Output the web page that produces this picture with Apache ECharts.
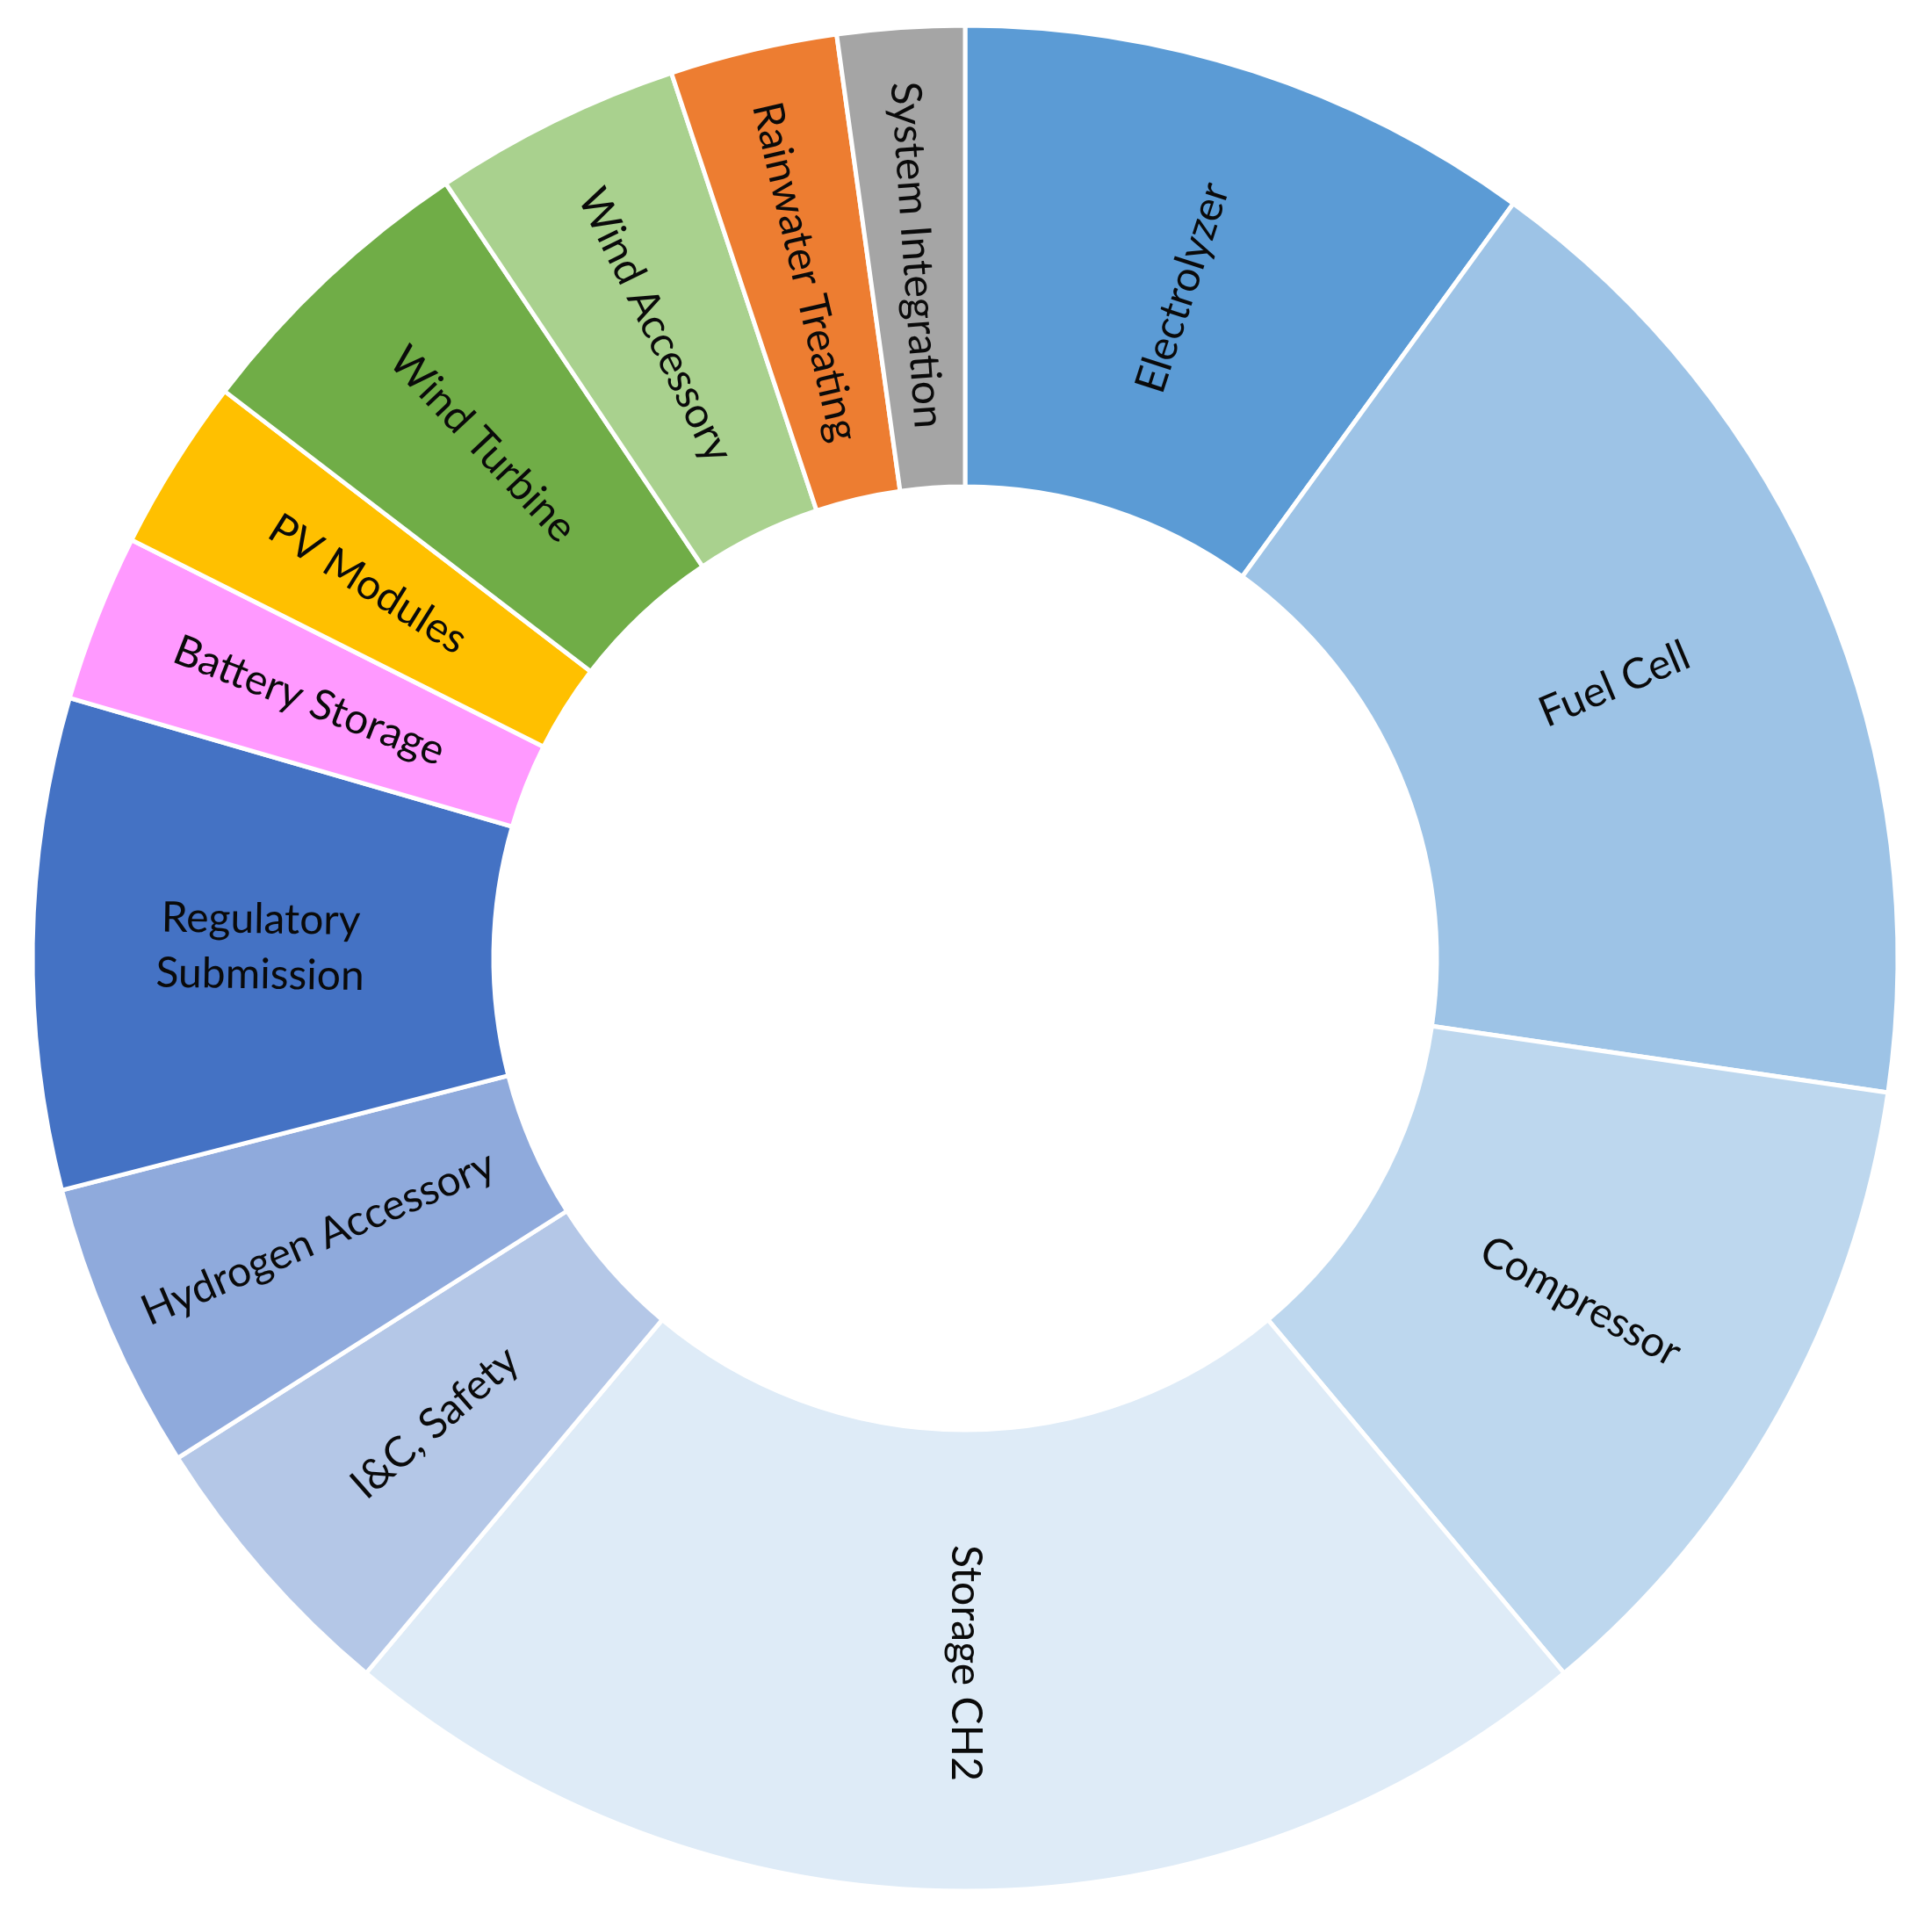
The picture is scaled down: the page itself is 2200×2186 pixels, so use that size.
<!DOCTYPE html>
<html>
<head>
<meta charset="utf-8">
<style>
  html, body { margin: 0; padding: 0; background: #ffffff; }
  #chart { width: 2200px; height: 2186px; }
</style>
<script src="https://cdn.jsdelivr.net/npm/echarts@6/dist/echarts.min.js"></script>
</head>
<body>
<div id="chart"></div>
<script>
const categories = [
  'Electrolyzer', 'Fuel Cell', 'Compressor', 'Storage CH2', 'I&C, Safety',
  'Hydrogen Accessory', 'Regulatory Submission', 'Battery Storage', 'PV Modules',
  'Wind Turbine', 'Wind Accessory', 'Rainwater Treating', 'System Integration'
];
const shares = [10.0, 17.3, 11.6, 22.2, 4.9, 5.0, 8.5, 2.9, 3.0, 5.2, 4.3, 2.9, 2.2];
const colors = [
  '#5B9BD5', '#9DC3E6', '#BDD7EE', '#DEEBF7', '#B4C7E7',
  '#8FAADC', '#4472C4', '#FF99FF', '#FFC000',
  '#70AD47', '#A9D18E', '#ED7D31', '#A5A5A5'
];

const chart = echarts.init(document.getElementById('chart'), null, { renderer: 'canvas' });
chart.setOption({
  backgroundColor: '#ffffff',
  animation: false,
  series: [{
    type: 'pie',
    center: [1099, 1091],
    radius: [537, 1062],
    startAngle: 90,
    clockwise: true,
    avoidLabelOverlap: false,
    data: categories.map((c, i) => ({ name: c, value: shares[i], itemStyle: { color: colors[i] } })),
    itemStyle: { borderColor: '#ffffff', borderWidth: 5 },
    label: {
      show: true,
      position: 'inside',
      rotate: 'radial',
      color: '#0a0a0a',
      fontFamily: 'Lato',
      fontSize: 48,
      lineHeight: 63,
      align: 'center',
      formatter: p => p.name === 'Regulatory Submission' ? 'Regulatory\nSubmission' : p.name
    },
    labelLine: { show: false },
    emphasis: { disabled: true }
  }]
});
</script>
</body>
</html>
